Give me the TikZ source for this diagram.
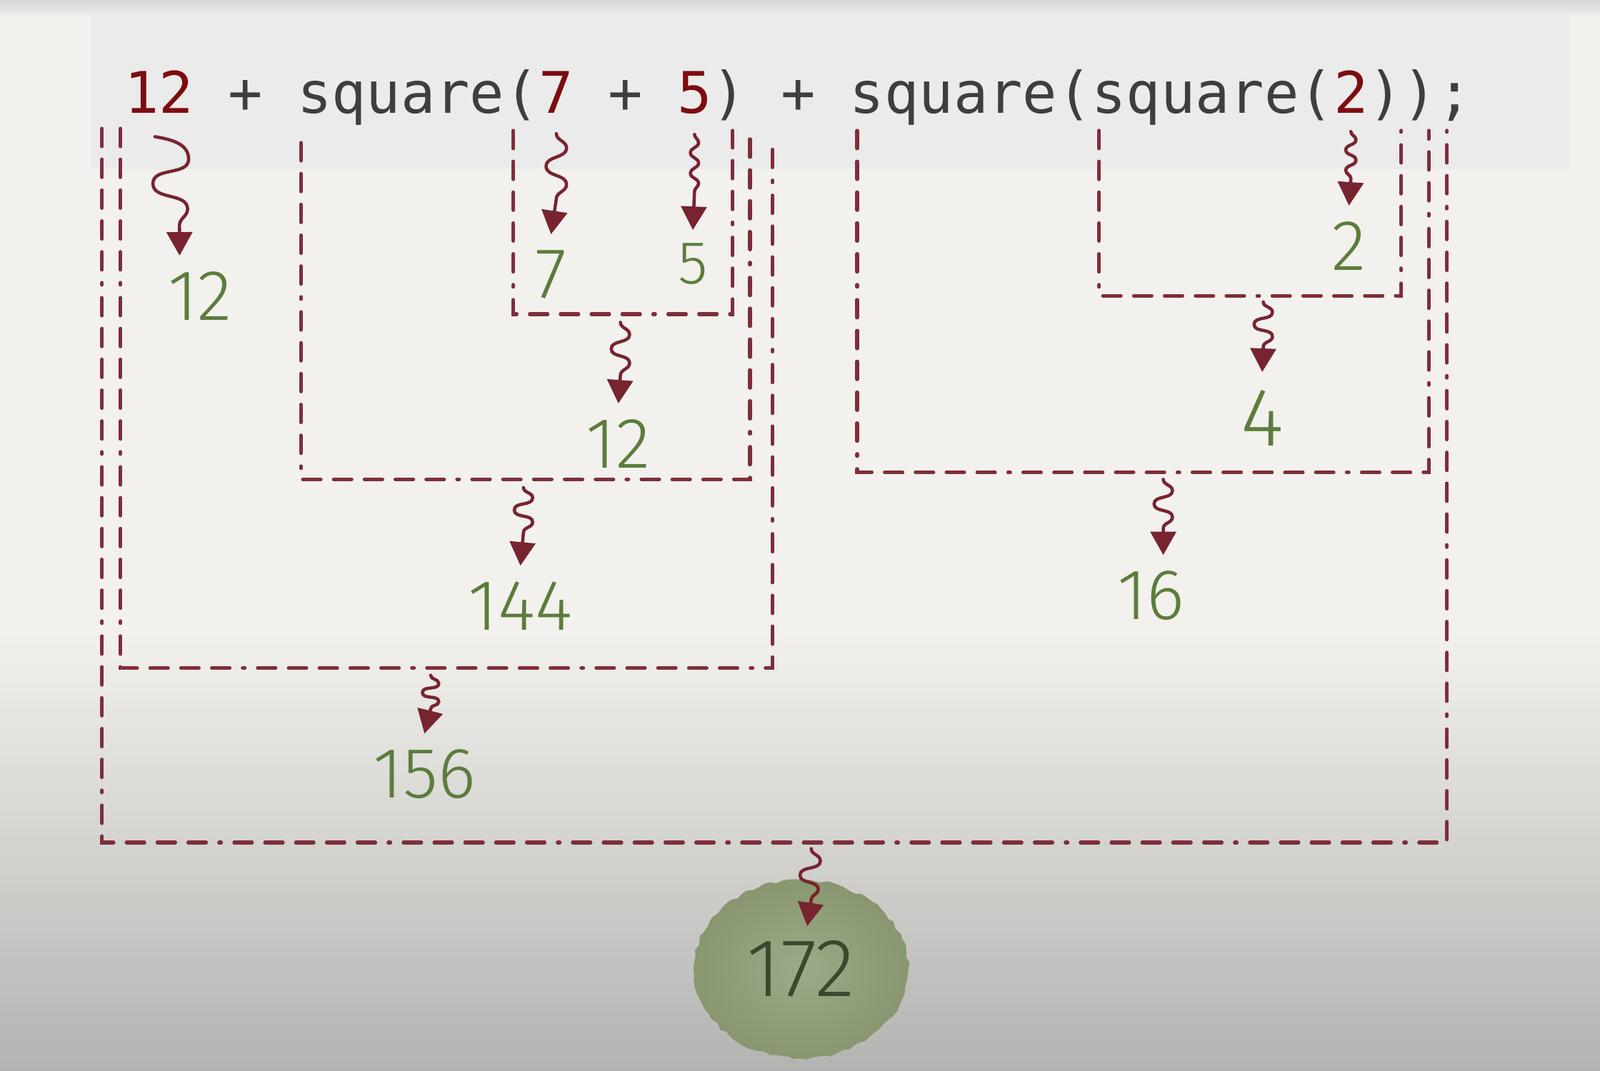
\documentclass[tikz,border=0pt]{standalone}
\usepackage{fontspec}
\usepackage{xcolor}
\usepackage{tikz}
\usetikzlibrary{positioning, arrows.meta, shapes.geometric, decorations.pathmorphing}

\newfontfamily\codefont{DejaVu Sans Mono}
\newfontfamily\handfont{Fira Sans Light}

\definecolor{paper}{HTML}{F2F1ED}
\definecolor{paperdark}{HTML}{B3B3B1}
\definecolor{topgray}{HTML}{D8D8D8}
\definecolor{band}{HTML}{EBEBEB}
\definecolor{codegray}{HTML}{3E3E3E}
\definecolor{codered}{HTML}{7D0C10}
\definecolor{framered}{HTML}{7E2E3A}
\definecolor{arrowred}{HTML}{772430}
\definecolor{handgreen}{HTML}{5C7C3C}
\definecolor{blobin}{HTML}{9CAA88}
\definecolor{blobout}{HTML}{889770}
\definecolor{blobtext}{HTML}{3A482E}

\begin{document}
\begin{tikzpicture}[
    x=0.1mm, y=-0.1mm,
    code/.style={font=\codefont\fontsize{16}{19}\selectfont, text=codegray,
                 inner sep=0pt, outer sep=0pt},
    lit/.style={code, text=codered},
    result/.style={font=\handfont\fontsize{20}{24}\selectfont, text=handgreen,
                   inner sep=1.5mm},
    blob/.style={ellipse, minimum width=21mm, minimum height=17.5mm,
                 inner color=blobin, outer color=blobout,
                 decorate, decoration={random steps, segment length=0.6mm, amplitude=0.15mm},
                 font=\handfont\fontsize{23}{27}\selectfont, text=blobtext},
    frame/.style={draw=framered, line width=1pt, line cap=round,
                  dash pattern=on 5pt off 3.6pt on 5pt off 3.6pt on 5pt off 3.6pt
                               on 5pt off 3.6pt on 5pt off 3.6pt on 0.6pt off 3.6pt},
    arrow/.style={draw=arrowred, line width=0.9pt, line cap=round,
                  -{Triangle[width=2.5mm, length=2.3mm]}},
    wr/.style={insert path={to[out=-90, in=90] ++(#1)}},
]
\useasboundingbox (0,0) rectangle (1568,1050);

% paper
\fill[paper] (0,0) rectangle (1568,1050);
\shade[top color=paper, bottom color=paperdark] (0,620) rectangle (1568,1050);
\shade[top color=topgray, bottom color=band] (0,0) rectangle (1568,14);
\fill[band] (88,12) rectangle (1537,166);

% code line
\node[lit, anchor=base west] (lit12) at (122,111) {12};
\node[code, base right=0pt of lit12] (t1) {\ +\ square(};
\node[lit, base right=0pt of t1] (lit7) {7};
\node[code, base right=0pt of lit7] (t2) {\ +\ \mbox{}};
\node[lit, base right=0pt of t2] (lit5) {5};
\node[code, base right=0pt of lit5] (t3) {)\ +\ square(square(};
\node[lit, base right=0pt of t3] (lit2) {2};
\node[code, base right=0pt of lit2] (t4) {));};

% frames
\coordinate (b75) at (608,308);
\draw[frame] (503,128) |- (b75) -| (718,128);
\coordinate (bsq75) at (513,470);
\draw[frame] (295,140) |- (bsq75) -| (735,132);
\coordinate (b156) at (422,655);
\draw[frame] (118,126) |- (b156) -| (757,135);
\coordinate (bsq2) at (1238,290);
\draw[frame] (1077,128) |- (bsq2) -| (1373,128);
\coordinate (bsqsq2) at (1140,463);
\draw[frame] (840,128) |- (bsqsq2) -| (1400,128);
\coordinate (ball) at (795,826);
\draw[frame] (100,126) |- (ball) -| (1418,128);

% values
\node[result] (r12) at (196,290) {12};
\node[result] (r7) at (540,269) {7};
\node[result, scale=0.85] (r5) at (679,259) {5};
\node[result] (r12b) at (606,435) {12};
\node[result] (r144) at (510,594) {144};
\node[result] (r156) at (416,759) {156};
\node[result] (r2) at (1322,241) {2};
\node[result, scale=1.15] (r4) at (1237,410) {4};
\node[result] (r16) at (1128,584) {16};
\node[blob] (r172) at (785,950) {172};

% arrows
\draw[arrow] ([xshift=-0.4mm, yshift=-2.3mm]lit12.south) to[out=-10, in=90] ++(33,22)
    [wr={-35,24}, wr={34,25}, wr={-8,16}] -- ([xshift=-2mm]r12.north);
\draw[arrow] ([yshift=-2mm]lit7.south) [wr={10,14}, wr={-20,18}, wr={20,18}, wr={-10,14}]
    -- (r7.north);
\draw[arrow] ([yshift=-2mm]lit5.south) [wr={4,8}, wr={-8,10}, wr={8,10}, wr={-8,10},
    wr={8,10}, wr={-4,8}] -- (r5.north);
\draw[arrow] ([yshift=-1.8mm]lit2.south) [wr={5,8}, wr={-10,10}, wr={10,10}, wr={-10,10},
    wr={5,8}] -- (r2.north);
\draw[arrow] ([yshift=-0.8mm]b75) [wr={9,12}, wr={-18,14}, wr={18,14}, wr={-9,12}]
    -- (r12b.north);
\draw[arrow] ([yshift=-0.8mm]bsq75) [wr={9,10}, wr={-18,12}, wr={18,12}, wr={-9,10}]
    -- (r144.north);
\draw[arrow] ([yshift=-0.7mm]b156) [wr={8,8}, wr={-16,9}, wr={16,9}, wr={-8,7}]
    -- (r156.north);
\draw[arrow] ([yshift=-0.6mm]bsq2) [wr={9,10}, wr={-18,12}, wr={18,12}, wr={-9,10}]
    -- (r4.north);
\draw[arrow] ([yshift=-0.7mm]bsqsq2) [wr={9,11}, wr={-18,13}, wr={18,13}, wr={-9,11}]
    -- ([xshift=1.2mm]r16.north);
\draw[arrow] ([yshift=-0.6mm]ball) [wr={9,12}, wr={-20,14}, wr={18,14}, wr={-7,10}]
    -- ([xshift=0.6mm, yshift=4.2mm]r172.center);

\end{tikzpicture}
\end{document}
